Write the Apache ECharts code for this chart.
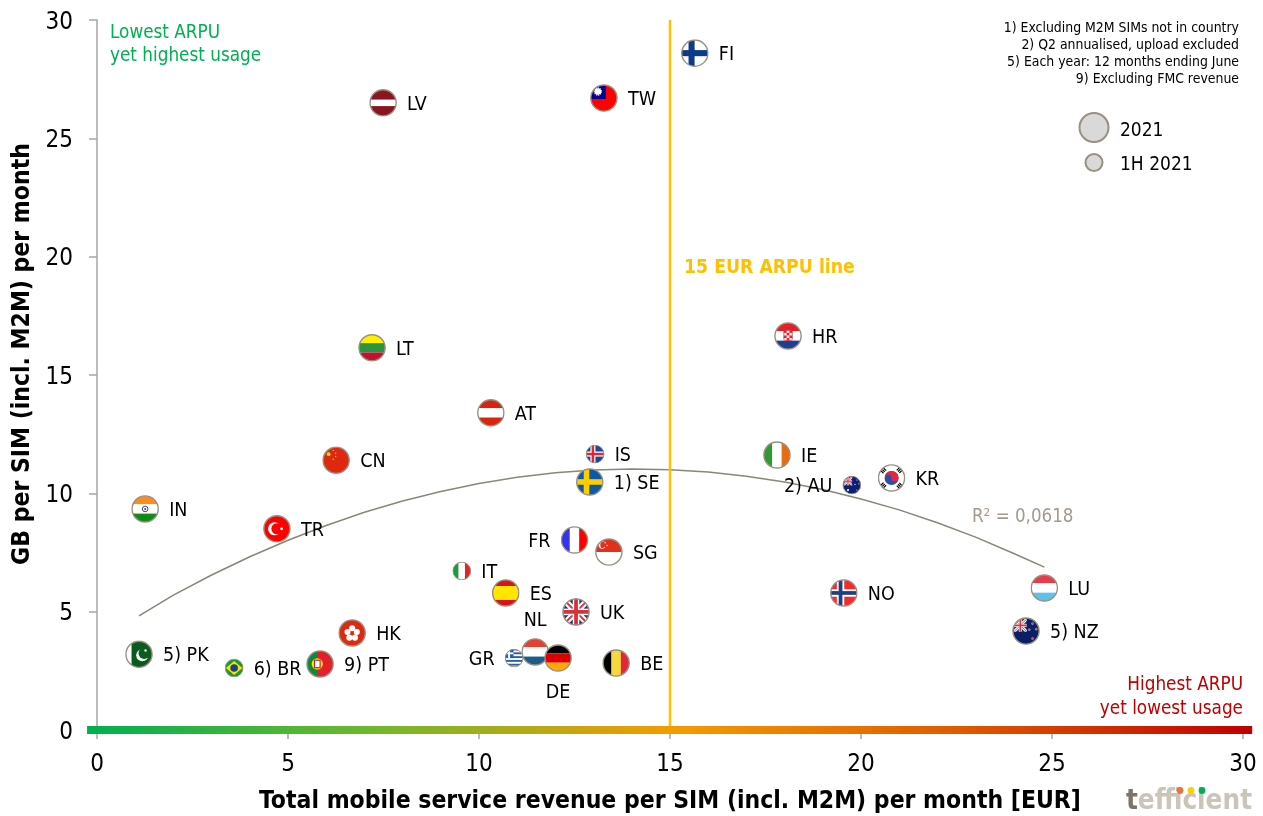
<!DOCTYPE html>
<html><head><meta charset="utf-8">
<style>html,body{margin:0;padding:0;background:#fff}#c{width:1263px;height:816px}</style>
<script src="https://cdn.jsdelivr.net/npm/echarts@6/dist/echarts.min.js"></script>
</head><body><div id="c"></div>
<script>
const FONT = '"DejaVu Sans Condensed","DejaVu Sans",sans-serif';
const codes   = ['FI','TW','LV','HR','LT','AT','IS','IE','CN','SE','AU','KR','IN','TR','FR','SG','IT','ES','NO','LU','UK','NZ','HK','NL','GR','DE','BE','PK','BR','PT'];
const labels  = ['FI','TW','LV','HR','LT','AT','IS','IE','CN','1) SE','2) AU','KR','IN','TR','FR','SG','IT','ES','NO','LU','UK','5) NZ','HK','NL','GR','DE','BE','5) PK','6) BR','9) PT'];
const revenue = [15.65,13.27,7.49,18.09,7.2,10.31,13.04,17.8,6.26,12.9,19.76,20.8,1.26,4.71,12.5,13.4,9.55,10.7,19.55,24.8,12.54,24.32,6.68,11.47,10.92,12.07,13.59,1.1,3.59,5.84];
const usage   = [28.6,26.7,26.5,16.65,16.15,13.4,11.66,11.62,11.4,10.48,10.35,10.65,9.34,8.5,8.03,7.52,6.72,5.79,5.79,6.0,4.99,4.18,4.1,3.3,3.04,3.04,2.83,3.2,2.62,2.79];
const halfYear = ['IS','AU','IT','GR','BR'];
const labelPos = {FR:'left',GR:'left',AU:'left',NL:'top',DE:'bottom'};
const trendX = [1.1,2,3,4,5,6,7,8,9,10,11,12,13,14,15,16,17,18,19,20,21,22,23,24,24.8];
const trendY = [4.82,5.7,6.55,7.32,8.02,8.64,9.2,9.68,10.08,10.42,10.68,10.87,10.99,11.03,11.0,10.9,10.72,10.48,10.16,9.76,9.3,8.76,8.15,7.46,6.88];
const barExtent = [-0.26,30.24];
const xTicks = [0,5,10,15,20,25,30];
const yTicks = [0,5,10,15,20,25,30];
const footnotes = ['1) Excluding M2M SIMs not in country','2) Q2 annualised, upload excluded','5) Each year: 12 months ending June','9) Excluding FMC revenue'];

const h3=(a,b,c)=>`<rect width="60" height="20" fill="${a}"/><rect y="20" width="60" height="20" fill="${b}"/><rect y="40" width="60" height="20" fill="${c}"/>`;
const v3=(a,b,c)=>`<rect width="20" height="60" fill="${a}"/><rect x="20" width="20" height="60" fill="${b}"/><rect x="40" width="20" height="60" fill="${c}"/>`;
const cross=(bg,c1,w1,c2,w2)=>`<rect width="60" height="60" fill="${bg}"/><rect x="${23-w1/2}" width="${w1}" height="60" fill="${c1}"/><rect y="${30-w1/2}" width="60" height="${w1}" fill="${c1}"/>`+(c2?`<rect x="${23-w2/2}" width="${w2}" height="60" fill="${c2}"/><rect y="${30-w2/2}" width="60" height="${w2}" fill="${c2}"/>`:'');
const union=`<rect width="60" height="60" fill="#1a3a7c"/><path d="M0 0L60 60M60 0L0 60" stroke="#fff" stroke-width="13"/><path d="M0 0L60 60M60 0L0 60" stroke="#d9303a" stroke-width="4"/><rect x="23" width="14" height="60" fill="#fff"/><rect y="23" width="60" height="14" fill="#fff"/><rect x="26" width="8" height="60" fill="#d9303a"/><rect y="26" width="60" height="8" fill="#d9303a"/>`;
const canton=`<g transform="translate(4 4) scale(.46)"><svg width="60" height="60" viewBox="0 0 60 60">${union}</svg></g>`;
const flags={
 FI:cross('#fff','#0c3b87',13),
 SE:cross('#0a5aa5','#fecc00',12),
 NO:cross('#f62a2a','#fff',16,'#1c3f86',8),
 IS:cross('#1b4a9c','#fff',16,'#e3262e',8),
 LV:`<rect width="60" height="60" fill="#8a1420"/><rect y="23" width="60" height="14" fill="#fff"/>`,
 AT:h3('#d9230f','#fff','#d9230f'),
 LT:h3('#fdf100','#27963f','#c1122f'),
 LU:h3('#e83a4a','#fff','#5fc0ea'),
 NL:h3('#e8402f','#fff','#1a5c8c'),
 DE:h3('#000','#dd0000','#ffaa00'),
 IN:h3('#ff8c1a','#fff','#118a1a')+`<circle cx="30" cy="30" r="6" fill="none" stroke="#33338c" stroke-width="2"/><circle cx="30" cy="30" r="2" fill="#33338c"/>`,
 FR:v3('#3333ee','#fff','#ff0000'),
 IT:v3('#1a9c3a','#fff','#e3262e'),
 IE:v3('#2e9b30','#fff','#e96a10'),
 BE:v3('#000','#f6d83a','#e3263a'),
 ES:`<rect width="60" height="60" fill="#d6121e"/><rect y="15" width="60" height="30" fill="#ffe600"/>`,
 TR:`<rect width="60" height="60" fill="#fe0000"/><circle cx="25" cy="30" r="14" fill="#fff"/><circle cx="30" cy="30" r="12" fill="#fe0000"/><circle cx="40" cy="30" r="3" fill="#fff"/>`,
 PK:`<rect width="60" height="60" fill="#fff"/><rect x="14" width="46" height="60" fill="#0a5c1e"/><circle cx="37" cy="32" r="13" fill="#fff"/><circle cx="41" cy="28" r="12" fill="#0a5c1e"/><circle cx="44" cy="22" r="2.5" fill="#fff"/>`,
 CN:`<rect width="60" height="60" fill="#de2910"/><circle cx="14" cy="17" r="4" fill="#ffde00"/><circle cx="24" cy="9" r="1.4" fill="#ffde00"/><circle cx="29" cy="15" r="1.4" fill="#ffde00"/><circle cx="29" cy="22" r="1.4" fill="#ffde00"/><circle cx="24" cy="28" r="1.4" fill="#ffde00"/>`,
 HK:`<rect width="60" height="60" fill="#de2910"/><g fill="#fff"><circle cx="30" cy="20" r="6.5"/><circle cx="40" cy="28" r="6.5"/><circle cx="36" cy="40" r="6.5"/><circle cx="24" cy="40" r="6.5"/><circle cx="20" cy="28" r="6.5"/></g><circle cx="30" cy="31" r="2" fill="#de2910"/>`,
 TW:`<rect width="60" height="60" fill="#fe0000"/><rect width="34" height="32" fill="#000095"/><circle cx="17" cy="16" r="7" fill="#fff" stroke="#fff" stroke-width="4" stroke-dasharray="2 2"/>`,
 KR:`<rect width="60" height="60" fill="#fff"/><circle cx="30" cy="30" r="15" fill="#2a4fa8"/><path d="M15 30a15 15 0 0 1 30 0a7.5 7.5 0 0 1-15 0a7.5 7.5 0 0 0-15 0z" fill="#e3263a"/><g stroke="#000" stroke-width="8" stroke-dasharray="2.5 1.5"><path d="M9 18L17 10M43 10L51 18M9 42L17 50M43 50L51 42"/></g>`,
 SG:`<rect width="60" height="30" fill="#e0301e"/><rect y="30" width="60" height="30" fill="#fff"/><circle cx="16" cy="15" r="8" fill="#fff"/><circle cx="19" cy="15" r="7.5" fill="#e0301e"/><circle cx="22" cy="10" r="1.5" fill="#fff"/><circle cx="26" cy="16" r="1.5" fill="#fff"/><circle cx="20" cy="20" r="1.5" fill="#fff"/>`,
 GR:`<rect width="60" height="60" fill="#2c5fa8"/><g fill="#fff"><rect y="6" width="60" height="6"/><rect y="18" width="60" height="6"/><rect y="30" width="60" height="6"/><rect y="42" width="60" height="6"/><rect y="54" width="60" height="6"/></g><rect width="28" height="30" fill="#2c5fa8"/><rect x="11" width="6" height="30" fill="#fff"/><rect y="12" width="28" height="6" fill="#fff"/>`,
 PT:`<rect width="60" height="60" fill="#e3202a"/><rect width="24" height="60" fill="#0a8a3c"/><circle cx="24" cy="30" r="12" fill="#ffe600"/><rect x="18" y="22" width="12" height="16" fill="#fff" stroke="#d8202a" stroke-width="2.5"/>`,
 BR:`<rect width="60" height="60" fill="#119c3c"/><path d="M30 8L56 30L30 52L4 30z" fill="#fedf00"/><circle cx="30" cy="30" r="12" fill="#1c3f94"/>`,
 UK:union,
 AU:`<rect width="60" height="60" fill="#0a1f78"/>${canton}<g fill="#fff"><circle cx="18" cy="46" r="3.4"/><circle cx="46" cy="14" r="1.8"/><circle cx="40" cy="28" r="1.8"/><circle cx="52" cy="26" r="1.8"/><circle cx="46" cy="46" r="1.8"/></g>`,
 NZ:`<rect width="60" height="60" fill="#0a1f68"/>${canton}<g fill="#d9303a" stroke="#fff" stroke-width=".8"><circle cx="44" cy="14" r="2.2"/><circle cx="37" cy="27" r="2.2"/><circle cx="52" cy="26" r="2.2"/><circle cx="44" cy="46" r="2.2"/></g>`,
 HR:`${h3('#e3202a','#fff','#1c3f94')}<rect x="21" y="18" width="18" height="22" rx="3" fill="#fff" stroke="#e3202a" stroke-width="1.5"/><g fill="#e3202a"><rect x="21" y="18" width="6" height="5.5"/><rect x="33" y="18" width="6" height="5.5"/><rect x="27" y="23.5" width="6" height="5.5"/><rect x="21" y="29" width="6" height="5.5"/><rect x="33" y="29" width="6" height="5.5"/><rect x="27" y="34.5" width="6" height="5.5"/></g>`
};
const flagUri=c=>'image://data:image/svg+xml;charset=utf-8,'+encodeURIComponent(
 `<svg xmlns="http://www.w3.org/2000/svg" width="60" height="60" viewBox="0 0 60 60"><defs><clipPath id="k"><circle cx="30" cy="30" r="28"/></clipPath></defs><g clip-path="url(#k)">${flags[c]}</g><circle cx="30" cy="30" r="28" fill="none" stroke="#9a9080" stroke-width="3"/></svg>`);

const points=codes.map((c,i)=>{
  const small=halfYear.includes(c);
  const pos=labelPos[c]||'right';
  return {name:labels[i],value:[revenue[i],usage[i]],symbol:flagUri(c),symbolSize:small?19:28,
    label:{show:true,position:pos,formatter:`{t|${labels[i]}}`,padding:[4,0,0,0],distance:pos==='top'?7:pos==='bottom'?7:10,
      rich:{t:{color:'#000',fontFamily:FONT,fontSize:19.5}}}};
});
const text=(x,y,t,o)=>({type:'text',x,y,z:20,style:Object.assign({text:t,fontFamily:FONT,fill:'#000',verticalAlign:'middle'},o)});

const chart=echarts.init(document.getElementById('c'),null,{renderer:'canvas'});
chart.setOption({
 animation:false,backgroundColor:'#fff',
 grid:{left:97,right:20,top:20,bottom:86,containLabel:false,outerBoundsMode:'none'},
 xAxis:{type:'value',min:0,max:30,interval:5,
   name:'Total mobile service revenue per SIM (incl. M2M) per month [EUR]',nameLocation:'middle',nameGap:59,
   nameTextStyle:{fontFamily:FONT,fontSize:24.5,fontWeight:'bold',color:'#000'},
   axisLine:{show:true,onZero:false,lineStyle:{color:'#a6a6a6',width:1.5}},
   axisTick:{show:true,length:9,lineStyle:{color:'#a6a6a6',width:1.5}},
   axisLabel:{fontFamily:FONT,fontSize:24,color:'#000',margin:23,formatter:v=>xTicks.includes(v)?String(v):''},
   splitLine:{show:false}},
 yAxis:{type:'value',min:0,max:30,interval:5,
   axisLine:{show:true,lineStyle:{color:'#a6a6a6',width:1.5}},
   axisTick:{show:true,length:8,lineStyle:{color:'#a6a6a6',width:1.5}},
   axisLabel:{margin:24,padding:[5,0,0,0],formatter:v=>yTicks.includes(v)?`{t|${v}}`:'',
     rich:{t:{fontFamily:FONT,fontSize:24,color:'#000'}}},
   splitLine:{show:false}},
 series:[
  {type:'line',name:'trend',data:trendX.map((x,i)=>[x,trendY[i]]),showSymbol:false,silent:true,z:2,
   lineStyle:{color:'#8c8677',width:1.5}},
  {type:'line',name:'ARPU line',data:[[15,0],[15,30]],showSymbol:false,silent:true,z:3,
   lineStyle:{color:'#ffc000',width:2.5}},
  {type:'custom',name:'gradient',data:[[barExtent[0],barExtent[1],0]],silent:true,clip:false,z:4,
   encode:{x:[0,1],y:2},
   renderItem:(params,api)=>{
     const a=api.coord([api.value(0),api.value(2)]), b=api.coord([api.value(1),api.value(2)]);
     return {type:'rect',shape:{x:a[0],y:a[1]-4,width:b[0]-a[0],height:8},
       style:{fill:new echarts.graphic.LinearGradient(0,0,1,0,[
         {offset:0,color:'#00b050'},{offset:.25,color:'#72b72c'},{offset:.5,color:'#f39c00'},{offset:.75,color:'#df5a00'},{offset:1,color:'#c00000'}])}};
   }},
  {type:'scatter',name:'countries',data:points,z:10,clip:false,itemStyle:{opacity:1}}
 ],
 graphic:[
  {type:'text',x:23,y:354,z:20,rotation:Math.PI/2,style:{text:'GB per SIM (incl. M2M) per month',fontFamily:FONT,fontSize:24.5,fontWeight:'bold',fill:'#000',align:'center',verticalAlign:'middle'}},
  text(1239,28.5,footnotes[0],{fontSize:13.9,textAlign:'right'}),
  text(1239,45.5,footnotes[1],{fontSize:13.9,textAlign:'right'}),
  text(1239,62.5,footnotes[2],{fontSize:13.9,textAlign:'right'}),
  text(1239,79.5,footnotes[3],{fontSize:13.9,textAlign:'right'}),
  text(110,33,'Lowest ARPU',{fontSize:18.75,fill:'#00b050'}),
  text(110,56,'yet highest usage',{fontSize:18.75,fill:'#00b050'}),
  text(1243,685,'Highest ARPU',{fontSize:18.75,fill:'#c00000',textAlign:'right'}),
  text(1243,709,'yet lowest usage',{fontSize:18.75,fill:'#c00000',textAlign:'right'}),
  text(684,268,'15 EUR ARPU line',{fontSize:19.25,fontWeight:'bold',fill:'#ffc000'}),
  text(972,517,'R² = 0,0618',{fontSize:18.6,fill:'#a39a8c'}),
  {type:'circle',z:20,shape:{cx:1094,cy:127.5,r:14.5},style:{fill:'#d9d9d9',stroke:'#9a9080',lineWidth:2}},
  {type:'circle',z:20,shape:{cx:1094,cy:162.5,r:8.5},style:{fill:'#d9d9d9',stroke:'#9a9080',lineWidth:2}},
  text(1120,131,'2021',{fontSize:19}),
  text(1120,165,'1H 2021',{fontSize:19}),
  {type:'text',x:1126,y:802,z:20,style:{text:'{a|t}{b|efficient}',fontFamily:FONT,verticalAlign:'middle',
     rich:{a:{fontFamily:FONT,fontSize:27.6,fontWeight:'bold',fill:'#7d7568',color:'#7d7568'},b:{fontFamily:FONT,fontSize:27.6,fontWeight:'bold',fill:'#cbc4b8',color:'#cbc4b8'}}}},
  {type:'circle',z:21,shape:{cx:1180,cy:790.5,r:3.4},style:{fill:'#f07040'}},
  {type:'circle',z:21,shape:{cx:1191,cy:790.5,r:3.4},style:{fill:'#ffd000'}},
  {type:'circle',z:21,shape:{cx:1202,cy:790.5,r:3.4},style:{fill:'#00b050'}}
 ]
});
</script></body></html>
